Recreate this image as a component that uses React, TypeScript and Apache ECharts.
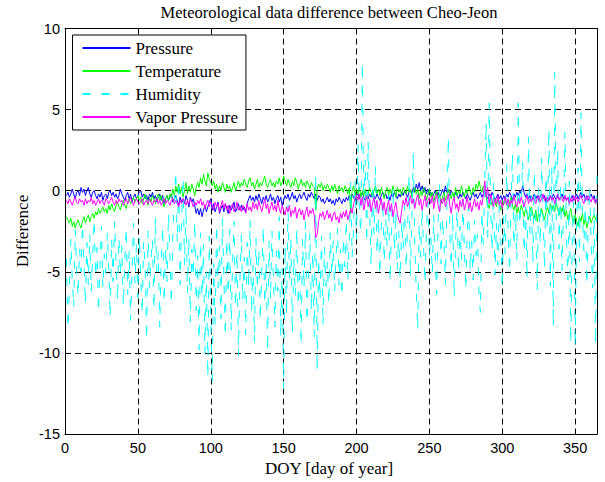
import React, { useEffect, useRef } from "react";
import * as echarts from "echarts";

const TITLE = "Meteorological data difference between Cheo-Jeon";
const X_NAME = "DOY [day of year]";
const Y_NAME = "Difference";
const SERIES_NAMES = ["Pressure", "Temperature", "Humidity", "Vapor Pressure"];

// daily differences, DOY 1..365
const pressure = [
  -0.3, -0.1, -0.4, -0.2, 0.1, -0.2, -0.5, -0.1, 0.0, -0.3,
  0.2, -0.1, 0.1, -0.3, 0.0, 0.2, -0.2, -0.4, -0.1, 0.0,
  -0.3, -0.5, -0.2, -0.4, -0.1, -0.6, -0.3, -0.2, -0.5, -0.1,
  0.0, -0.3, -0.1, -0.4, -0.2, -0.5, -0.3, 0.1, -0.2, -0.4,
  -0.6, -0.3, -0.1, -0.5, -0.2, -0.7, -0.4, -0.2, -0.5, -0.3,
  -0.1, 0.0, -0.4, -0.2, -0.5, -0.3, -0.6, -0.2, -0.4, -0.1,
  -0.5, -0.3, -0.7, -0.4, -0.2, -0.6, -0.3, -0.8, -0.5, -0.3,
  -0.6, -0.4, -0.2, -0.7, -0.5, -0.3, -0.6, -0.9, -0.4, -0.7,
  -0.5, -0.8, -0.3, -0.6, -1.0, -0.4, -0.7, -0.5, -0.9, -1.4,
  -1.1, -1.5, -1.1, -1.6, -1.2, -0.9, -1.3, -1.0, -0.7, -0.5,
  -1.2, -0.8, -1.3, -1.0, -0.7, -1.4, -1.1, -0.9, -1.3, -0.8,
  -1.1, -1.4, -0.9, -1.2, -1.0, -0.7, -1.3, -1.1, -0.8, -1.2,
  -0.9, -1.2, -1.0, -1.3, -0.8, -0.5, -0.3, -0.6, -0.4, -0.7,
  -0.3, -0.6, -0.2, -0.5, -0.8, -0.4, -0.6, -0.3, -0.7, -0.5,
  -0.2, -0.6, -0.4, -0.8, -0.5, -0.3, -0.7, -0.4, -0.9, -0.6,
  -0.3, -0.5, -0.2, -0.6, -0.4, -0.1, -0.5, -0.3, -0.7, -0.4,
  -0.2, -0.5, -0.3, -0.1, -0.4, -0.6, -0.2, -0.4, -0.1, -0.3,
  -0.5, -0.2, -0.6, -0.3, -0.4, -0.7, -0.5, -0.8, -0.6, -0.4,
  -0.7, -0.5, -0.8, -0.6, -0.9, -0.5, -0.7, -0.4, -0.6, -0.8,
  -0.5, -0.7, -0.4, -0.6, -0.3, -0.5, -0.2, -0.4, -0.6, -0.3,
  -0.2, -0.5, -0.3, -0.1, -0.4, -0.6, -0.3, -0.5, -0.2, -0.4,
  -0.1, -0.3, -0.5, -0.2, -0.4, -0.6, -0.3, -0.1, -0.4, -0.2,
  -0.5, -0.3, -0.6, -0.2, -0.4, -0.1, -0.3, -0.5, -0.2, -0.4,
  -0.1, -0.3, 0.0, -0.2, -0.4, -0.1, 0.1, -0.2, 0.2, -0.1,
  0.4, 0.1, 0.5, 0.0, 0.3, -0.1, 0.2, -0.2, 0.1, -0.3,
  -0.1, -0.4, -0.2, 0.0, -0.3, -0.1, -0.4, -0.2, 0.1, -0.2,
  0.3, -0.1, 0.1, -0.3, 0.0, -0.2, -0.4, -0.1, -0.3, -0.5,
  -0.2, -0.4, -0.1, -0.3, -0.5, -0.2, -0.4, -0.6, -0.3, -0.1,
  -0.4, -0.2, -0.5, -0.3, -0.1, -0.4, -0.2, 0.1, -0.3, -0.5,
  -0.2, -0.4, -0.1, -0.3, -0.6, -0.4, -0.2, -0.5, -0.3, -0.6,
  -0.3, -0.5, -0.2, -0.4, -0.1, -0.3, -0.6, -0.2, -0.4, -0.1,
  -0.3, 0.0, -0.2, 0.3, -0.1, -0.4, -0.2, -0.5, -0.3, -0.6,
  -0.4, -0.2, -0.5, -0.3, -0.6, -0.4, -0.2, -0.5, -0.3, -0.7,
  -0.4, -0.6, -0.3, -0.5, -0.2, -0.4, -0.6, -0.3, -0.5, -0.4,
  -0.2, -0.5, -0.3, -0.6, -0.4, -0.7, -0.5, -0.3, -0.6, -0.4,
  -0.2, -0.5, -0.3, -0.1, -0.4, -0.2, -0.5, -0.3, -0.6, -0.4,
  -0.2, -0.5, -0.3, -0.7, -0.6,
];

const temperature = [
  -1.6, -1.8, -2.0, -1.7, -2.2, -1.9, -2.3, -2.0, -1.8, -2.1,
  -2.3, -1.9, -1.6, -2.0, -1.7, -1.5, -1.9, -1.6, -1.4, -1.7,
  -1.3, -1.5, -1.1, -1.4, -1.2, -1.0, -1.3, -1.1, -1.4, -0.9,
  -1.2, -0.8, -1.1, -1.3, -0.9, -0.7, -1.0, -1.2, -0.8, -0.6,
  -0.9, -1.1, -0.7, -0.5, -0.8, -0.6, -0.4, -0.7, -0.5, -0.3,
  -0.6, -0.4, -0.8, -0.5, -0.2, -0.6, -0.9, -0.4, -0.7, -0.3,
  -0.5, -0.8, -0.4, -0.2, -0.6, -0.3, -0.7, -1.0, -0.5, -0.3,
  -0.6, -0.2, -0.4, 0.1, -0.3, 0.3, -0.1, 0.4, -0.2, 0.2,
  -0.4, 0.0, 0.5, -0.2, 0.3, -0.1, 0.4, 0.1, -0.3, 0.2,
  0.5, 0.2, 0.8, 0.4, 1.0, 0.6, 0.3, 1.1, 0.7, 0.5,
  0.3, 0.6, 0.1, 0.4, -0.1, 0.3, 0.0, 0.5, 0.2, -0.1,
  0.4, 0.1, 0.3, -0.1, 0.2, 0.5, 0.0, 0.3, 0.6, 0.2,
  0.5, 0.3, 0.7, 0.4, 0.2, 0.6, 0.8, 0.3, 0.5, 0.1,
  0.4, 0.7, 0.2, 0.5, 0.3, 0.6, 0.9, 0.4, 0.2, 0.5,
  0.7, 0.3, 0.5, 0.2, 0.6, 0.4, 0.8, 0.3, 0.5, 0.9,
  0.6, 0.3, 0.7, 0.4, 0.2, 0.6, 0.3, 0.8, 0.5, 0.1,
  0.4, 0.7, 0.3, 0.5, 0.2, 0.6, 0.4, 0.1, 0.5, 0.3,
  0.2, -1.2, 0.1, 0.4, 0.2, 0.5, 0.0, 0.3, 0.1, 0.4,
  0.2, -0.1, 0.3, 0.0, 0.4, 0.1, -0.2, 0.3, 0.0, 0.2,
  -0.1, 0.3, 0.1, -0.2, 0.2, -1.4, 0.0, 0.3, -0.3, 0.1,
  -0.2, 0.2, -0.4, 0.0, -0.3, 0.1, -0.5, -0.2, 0.2, -0.1,
  -0.4, 0.0, 0.3, -0.2, 0.1, -0.3, 0.2, -0.1, -0.5, 0.0,
  0.2, -0.3, 0.1, -0.2, 0.3, 0.0, -0.4, 0.2, -0.1, 0.1,
  -0.3, 0.2, 0.0, -0.2, 0.3, -0.1, 0.1, -0.4, 0.0, 0.2,
  -0.2, 0.1, -0.5, 0.0, -0.3, 0.2, -0.1, -0.6, -0.2, 0.1,
  -0.4, -0.1, -0.7, -0.3, 0.0, -0.5, -0.2, -0.8, -0.4, -0.1,
  -0.6, -0.3, 0.1, -0.2, -0.5, -0.1, -0.4, 0.2, -0.3, 0.0,
  -0.2, 0.3, -0.1, -0.4, 0.1, -0.2, 0.3, 0.0, -0.3, 0.2,
  -0.1, 0.4, 0.1, 0.6, 0.2, -0.1, 0.3, 0.0, -0.4, -0.8,
  -1.1, -0.6, -0.9, -0.4, -0.7, -1.0, -0.5, -0.8, -1.2, -0.6,
  -0.9, -0.5, -0.8, -1.1, -0.7, -0.4, -0.9, -1.2, -0.8, -1.4,
  -1.0, -1.5, -0.9, -1.2, -1.6, -1.1, -1.4, -1.8, -1.3, -1.0,
  -1.5, -1.7, -1.2, -1.9, -1.4, -1.6, -1.1, -1.5, -1.8, -1.3,
  -1.0, -1.4, -0.8, -1.2, -0.9, -1.3, -0.7, -1.1, -1.5, -1.0,
  -1.3, -0.9, -1.6, -1.2, -1.8, -1.4, -1.1, -1.7, -2.0, -1.5,
  -1.8, -2.2, -1.6, -1.9, -1.4, -2.1, -1.7, -2.3, -1.9, -1.6,
  -2.0, -1.7, -1.5, -1.8, -1.6,
];

const humidity = [
  -4.2, -8.5, -6.1, -3.0, -5.5, -7.2, -2.4, -4.8, -6.5, -3.6,
  -5.0, -2.1, -4.4, -7.0, -3.2, -5.8, -2.7, -6.2, -4.0, -1.8,
  -5.3, -3.5, -7.5, -4.6, -2.2, -6.0, -3.9, -5.1, -2.6, -4.7,
  -7.8, -3.0, -5.6, -1.9, -4.3, -6.8, -2.9, -5.2, -3.4, -7.1,
  -4.5, -2.3, -6.4, -3.7, -8.0, -4.9, -2.0, -5.7, -3.3, -6.6,
  -2.8, -5.4, -7.6, -3.1, -4.8, -9.2, -2.5, -6.0, -4.2, -3.0,
  -7.3, -1.6, -5.0, -3.8, -8.4, -4.4, -2.2, -6.9, -3.5, -5.6,
  -1.4, -4.1, -7.0, -2.7, -0.5, 1.2, -3.2, 0.6, -5.8, -2.0,
  0.8, -4.6, -1.0, -6.3, -2.9, -8.1, -3.6, -5.3, -1.9, -7.4,
  -4.0, -9.8, -2.6, -6.5, -3.3, -10.0, -5.0, -11.5, -2.8, -7.6,
  -11.8, -4.5, -8.3, -2.1, -6.0, -3.4, -7.9, -1.7, -5.2, -9.0,
  -3.0, -6.4, -2.4, -8.6, -4.3, -1.9, -7.2, -3.8, -10.2, -5.5,
  -2.7, -6.8, -4.1, -8.9, -3.2, -5.9, -1.8, -7.5, -4.6, -9.4,
  -2.9, -6.1, -3.6, -8.0, -5.0, -2.2, -7.0, -4.4, -9.9, -3.1,
  -6.7, -2.5, -5.4, -8.4, -3.7, -6.2, -1.6, -9.0, -4.8, -12.2,
  -3.4, -7.7, -0.8, -5.6, -2.9, -8.8, -4.1, -6.5, -2.3, -7.1,
  -4.7, -9.5, -3.0, -6.0, -1.9, -8.1, -5.1, -2.6, -7.4, -3.8,
  -9.0, 1.0, -11.1, -4.2, -6.7, -2.8, -8.3, -3.5, -5.9, -4.4,
  -7.0, -2.6, -5.2, -3.1, -6.2, -4.0, -2.3, -5.8, -3.6, -6.5,
  -2.9, -4.7, -1.8, -5.5, -3.2, 0.5, -4.1, -2.4, 0.6, -3.0,
  2.8, -1.5, -2.6, 7.9, -0.8, 1.9, -3.2, 3.0, -1.2, -4.6,
  0.4, -2.7, 1.5, -3.9, -1.6, -5.2, -2.2, -0.6, -4.4, -1.8,
  -3.4, -0.3, -5.6, -2.1, 0.2, -3.7, -1.3, -4.9, -2.5, -6.0,
  -1.9, -3.6, -0.9, -4.8, -2.4, 1.0, -5.3, -1.6, 2.4, -3.3,
  -6.2, -8.6, -2.0, -4.1, -1.1, -3.5, -5.7, -2.3, -0.7, -4.0,
  -2.8, -5.1, -1.5, -3.9, -6.4, -2.0, 0.4, -4.5, -1.7, -3.2,
  -5.8, -0.9, 3.3, -2.6, -4.7, -1.4, -6.6, -3.0, -1.2, -5.0,
  -2.2, -4.3, -0.6, -3.6, -6.1, -2.5, -1.0, -4.9, -3.1, -5.5,
  -1.8, -4.0, -2.7, -6.3, -7.5, -1.3, -3.4, 0.8, 4.2, -2.9,
  5.4, -1.1, -3.7, 0.5, -5.2, -2.0, -4.6, -0.4, -3.0, -6.0,
  -1.6, -3.9, 1.6, -2.5, -5.0, -0.8, 2.3, -3.4, -1.4, -4.3,
  5.4, -2.1, -0.5, 1.8, -3.8, -1.0, -5.4, 3.3, -2.6, -0.3,
  -4.5, 1.2, -2.0, -6.1, 0.3, -3.3, 2.0, -1.5, -4.8, 0.9,
  -2.4, 3.8, -5.9, 1.5, -8.4, 7.3, -1.8, 2.6, -3.6, 0.4,
  -4.9, -1.2, 3.6, -2.8, -5.5, 0.6, -9.4, -3.1, -0.7, -9.6,
  -2.3, 1.4, -4.4, 4.8, -1.6, -3.7, -0.4, -5.8, -2.0, 0.2,
  -3.3, -6.0, -1.1, -9.5, 0.9,
];

const vaporPressure = [
  -0.6, -0.8, -0.5, -0.7, -0.9, -0.6, -0.4, -0.7, -0.8, -0.5,
  -0.7, -0.6, -0.9, -0.5, -0.8, -0.6, -0.7, -0.4, -0.8, -0.6,
  -0.9, -0.7, -0.5, -0.8, -0.6, -0.7, -0.9, -0.5, -0.6, -0.8,
  -0.6, -0.4, -0.7, -0.9, -0.6, -0.8, -0.5, -0.7, -0.6, -0.9,
  -0.7, -0.5, -0.8, -0.6, -0.4, -0.7, -0.9, -0.6, -0.5, -0.7,
  -0.8, -0.6, -0.5, -0.9, -0.7, -0.6, -0.8, -0.5, -0.7, -0.9,
  -0.6, -0.7, -0.5, -0.8, -0.6, -0.9, -0.7, -0.5, -0.8, -0.6,
  -0.7, -0.9, -0.6, -0.5, -0.8, -0.6, -0.7, -1.0, -0.6, -0.8,
  -0.5, -0.7, -0.9, -0.6, -0.8, -0.5, -0.7, -1.0, -0.7, -0.9,
  -0.6, -0.8, -0.5, -0.9, -0.7, -1.1, -0.8, -0.6, -1.0, -0.7,
  -0.9, -1.2, -0.7, -1.0, -0.8, -1.3, -0.9, -0.6, -1.1, -0.8,
  -1.2, -0.9, -1.4, -1.0, -0.8, -1.3, -1.1, -0.7, -1.2, -1.0,
  -1.3, -0.9, -1.1, -1.4, -0.8, -1.2, -1.0, -1.3, -0.7, -1.1,
  -0.8, -1.2, -0.6, -1.0, -1.3, -0.9, -0.5, -1.1, -0.8, -1.4,
  -1.0, -0.7, -1.2, -0.9, -1.3, -0.6, -1.1, -1.4, -0.9, -1.2,
  -1.5, -1.0, -1.3, -0.9, -1.6, -1.2, -1.4, -1.0, -1.7, -1.3,
  -1.1, -1.5, -1.2, -1.8, -1.3, -1.0, -1.6, -1.2, -1.4, -1.1,
  -1.5, -2.9, -2.7, -1.9, -1.4, -1.6, -1.3, -1.8, -1.5, -1.2,
  -1.7, -1.4, -1.9, -1.5, -1.3, -1.8, -1.6, -2.0, -1.4, -1.7,
  -1.3, -1.6, -1.2, -1.8, -1.5, -1.1, -1.4, -0.8, -0.5, -0.3,
  -0.6, -0.2, -0.9, -0.4, -1.2, -0.7, -0.3, -1.0, -0.5, -1.3,
  -0.8, -0.4, -1.1, -0.6, -1.4, -0.9, -0.5, -1.2, -0.7, -1.5,
  -1.0, -0.6, -1.3, -0.8, -1.6, -1.1, -0.7, -1.4, -1.8, -2.0,
  -1.2, -0.6, -0.9, -0.4, -1.0, -0.7, -0.3, -0.8, -0.5, -1.1,
  -0.6, -0.2, -0.9, -0.5, -1.2, -0.7, -0.3, -1.0, -0.6, -0.4,
  -0.8, -0.3, -1.1, -0.6, -0.2, -0.9, -1.3, -0.5, -0.8, -0.4,
  -1.0, -0.6, -0.2, -0.9, -1.4, -0.7, -0.4, -1.1, -0.8, -1.3,
  -0.6, -1.0, -0.5, -1.2, -0.8, -0.4, -1.1, -0.7, -1.3, -0.9,
  -0.5, -1.0, -0.7, -1.2, -0.6, -0.9, -0.3, 0.6, -0.4, 0.2,
  -0.8, -0.2, -0.6, -1.0, -0.5, -0.8, -0.3, -0.9, -0.6, -1.1,
  -0.7, -0.4, -0.9, -0.5, -1.0, -0.6, -0.8, -0.3, -0.7, -1.0,
  -0.5, -0.8, -0.4, -0.7, -1.0, -0.6, -0.3, -0.8, -0.5, -0.7,
  -0.4, -0.6, -0.8, -0.5, -0.3, -0.7, -0.5, -0.2, -0.6, -0.4,
  -0.7, -0.5, -0.3, -0.6, -0.4, -0.8, -0.5, -0.2, -0.6, -0.4,
  -0.5, -0.7, -0.3, -0.6, -0.4, -0.8, -0.5, -0.7, -0.3, -0.6,
  -0.4, -0.7, -0.5, -0.3, -0.6, -0.8, -0.4, -0.6, -0.3, -0.5,
  -0.7, -0.4, -0.6, -0.8, -0.5,
];

const X_MIN = 0;
const X_MAX = 365;
const Y_MIN = -15;
const Y_MAX = 10;

const SERIF = "'Liberation Serif', 'Times New Roman', serif";
const SANS = "'Liberation Sans', Arial, Helvetica, sans-serif";

function toPairs(values: number[]) {
  return values.map((v, i) => [i + 1, v]);
}

export default function App() {
  const ref = useRef<HTMLDivElement>(null);

  useEffect(() => {
    if (!ref.current) return;
    const chart = echarts.init(ref.current, null, { renderer: "svg" });

    const boxAxisX = (position: "bottom" | "top", showLabels: boolean) => ({
      type: "value",
      position,
      min: X_MIN,
      max: X_MAX,
      interval: 50,
      axisLine: { show: true, onZero: false, lineStyle: { color: "#000", width: 1 } },
      axisTick: { show: true, inside: true, length: 5, lineStyle: { color: "#000" } },
      axisLabel: {
        show: showLabels,
        showMaxLabel: false,
        color: "#000",
        fontFamily: SANS,
        fontSize: 14.5,
        margin: 6,
      },
      splitLine: {
        show: showLabels,
        lineStyle: { color: "#000", type: [6, 4], width: 1 },
      },
    });

    const boxAxisY = (position: "left" | "right", showLabels: boolean) => ({
      type: "value",
      position,
      min: Y_MIN,
      max: Y_MAX,
      interval: 5,
      axisLine: { show: true, onZero: false, lineStyle: { color: "#000", width: 1 } },
      axisTick: { show: true, inside: true, length: 5, lineStyle: { color: "#000" } },
      axisLabel: {
        show: showLabels,
        color: "#000",
        fontFamily: SANS,
        fontSize: 14.5,
        margin: 5,
      },
      splitLine: {
        show: showLabels,
        lineStyle: { color: "#000", type: [6, 4], width: 1 },
      },
    });

    const colors = ["#0000ff", "#00ff00", "#00ffff", "#ff00ff"];
    const datasets = [pressure, temperature, humidity, vaporPressure];

    chart.setOption({
      animation: false,
      backgroundColor: "#fff",
      grid: {
        left: 65,
        right: 8,
        top: 28.5,
        bottom: 48,
        containLabel: false,
      },
      xAxis: [boxAxisX("bottom", true), boxAxisX("top", false)],
      yAxis: [boxAxisY("left", true), boxAxisY("right", false)],
      legend: {
        show: true,
        orient: "vertical",
        left: 72.5,
        top: 35,
        padding: [4.5, 8, 4.5, 9],
        itemWidth: 48,
        itemHeight: 14,
        itemGap: 6,
        backgroundColor: "#fff",
        borderColor: "#000",
        borderWidth: 1,
        selectedMode: false,
        itemStyle: { opacity: 0 },
        textStyle: { color: "#000", fontFamily: SERIF, fontSize: 17 },
        data: SERIES_NAMES,
      },
      graphic: [
        {
          type: "text",
          x: 329,
          y: 12,
          style: {
            text: TITLE,
            fill: "#000",
            fontFamily: SERIF,
            fontSize: 16.5,
            align: "center",
            verticalAlign: "middle",
          },
        },
        {
          type: "text",
          x: 329,
          y: 468,
          style: {
            text: X_NAME,
            fill: "#000",
            fontFamily: SERIF,
            fontSize: 17,
            align: "center",
            verticalAlign: "middle",
          },
        },
        {
          type: "text",
          x: 22,
          y: 231,
          rotation: Math.PI / 2,
          style: {
            text: Y_NAME,
            fill: "#000",
            fontFamily: SERIF,
            fontSize: 17,
            align: "center",
            verticalAlign: "middle",
          },
        },
      ],
      series: SERIES_NAMES.map((name, i) => ({
        name,
        type: "line",
        xAxisIndex: 0,
        yAxisIndex: 0,
        data: toPairs(datasets[i]),
        symbol: "none",
        showSymbol: false,
        color: colors[i],
        lineStyle: {
          color: colors[i],
          width: 1,
          type: i === 2 ? [8, 11] : "solid",
        },
        z: 2 + i,
      })),
    });

    return () => {
      chart.dispose();
    };
  }, []);

  return (
    <div
      ref={ref}
      style={{ position: "fixed", left: 0, top: 0, width: 605, height: 482, background: "#fff" }}
    />
  );
}
